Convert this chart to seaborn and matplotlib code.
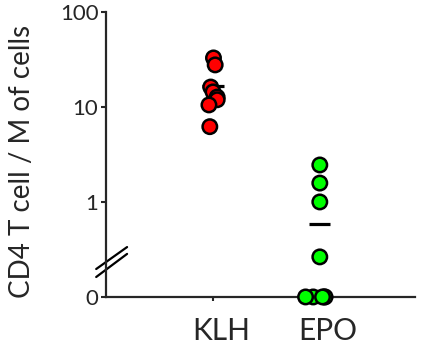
import matplotlib
matplotlib.use("Agg")
import matplotlib.pyplot as plt
import matplotlib.transforms as mtransforms
import numpy as np
import pandas as pd
import seaborn as sns

# values (cells per million); 0 = below detection
groups = ["KLH", "EPO"]
klh_values = [32.8, 27.7, 16.2, 14.4, 12.7, 11.9, 10.5, 6.2]
epo_values = [2.45, 1.58, 1.0, 0.264, 0, 0, 0, 0, 0]
tick_values = [-1, 0, 1, 2]
tick_labels = ["0", "1", "10", "100"]
colors = {"KLH": "#ff0000", "EPO": "#00ff00"}

sns.set_style("ticks")
plt.rcParams["font.family"] = ["Lato", "DejaVu Sans"]

df = pd.DataFrame({
    "group": ["KLH"] * len(klh_values) + ["EPO"] * len(epo_values),
    "value": klh_values + epo_values,
})
# log axis with a broken zero: zeros sit one decade below 1
df["y"] = np.where(df["value"] > 0, np.log10(df["value"].clip(lower=1e-9)), -1.0)
means = df.groupby("group", sort=False)["value"].mean()

fig = plt.figure(figsize=(4.26, 3.51), dpi=100)
ax = fig.add_axes([0.249, 0.154, 0.725, 0.812])

np.random.seed(3)
klh = df[df["group"] == "KLH"]
epo_pos = df[(df["group"] == "EPO") & (df["value"] > 0)]
zero = df[df["value"] == 0]
kw = dict(x="group", y="y", hue="group", order=groups, palette=colors,
          size=10.4, linewidth=1.8, edgecolor="black", legend=False, ax=ax)
sns.stripplot(data=klh, jitter=0.05, **kw)
sns.stripplot(data=epo_pos, jitter=False, **kw)
sns.stripplot(data=zero, jitter=0.14, **kw)
for coll in ax.collections:
    if len(coll.get_offsets()) == 0:
        coll.remove()
        continue
    coll.set_clip_on(False)
    coll.set_zorder(3)

for i, g in enumerate(groups):
    ax.hlines(np.log10(means[g]), i - 0.1, i + 0.1, color="black", lw=2.3, zorder=1)

ax.set_xlim(-1.0, 1.89)
ax.set_ylim(-1, 2)
ax.set_yticks(tick_values)
ax.set_yticklabels(tick_labels, fontsize=16)
ax.set_xticks(range(len(groups)))
ax.set_xticklabels([])
# group names sit a little right of their ticks, as in the original
shift = mtransforms.offset_copy(ax.get_xaxis_transform(), fig=fig, x=8, y=-20, units="dots")
for i, g in enumerate(groups):
    ax.text(i, 0, g, fontsize=21.5, ha="center", va="top", transform=shift)
ax.tick_params(axis="y", length=3.5, width=1.5, pad=2)
ax.tick_params(axis="x", length=3, width=1.5)
ax.set_xlabel("")
ax.set_ylabel("CD4 T cell / M of cells", fontsize=20)
ax.yaxis.set_label_coords(-0.23, 0.477)
for side in ["left", "bottom"]:
    ax.spines[side].set_linewidth(1.6)
sns.despine(ax=ax)

# axis break marks
for y0, y1 in [(0.098, 0.175), (0.070, 0.151)]:
    ax.plot([-0.032, 0.068], [y0, y1], color="black", lw=1.6,
            transform=ax.transAxes, clip_on=False)

fig.savefig("out.png", dpi=100)
